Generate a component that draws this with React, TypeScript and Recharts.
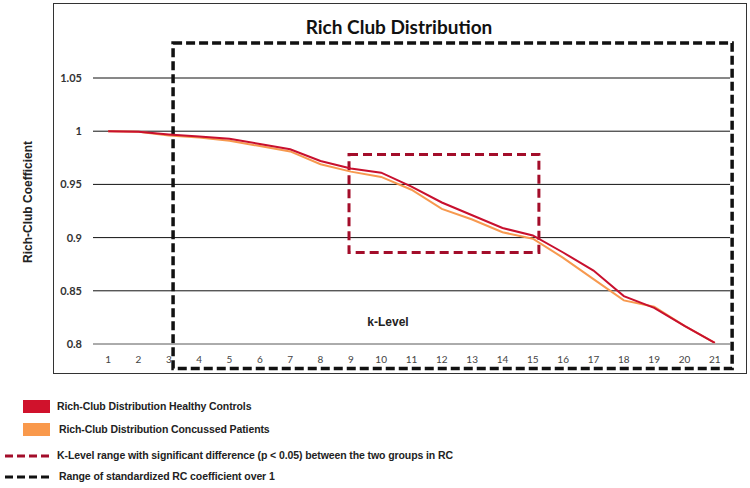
import {
  ComposedChart,
  Line,
  XAxis,
  YAxis,
  CartesianGrid,
  ReferenceArea,
} from 'recharts'

// k-levels on the x axis
const kLevels = [1, 2, 3, 4, 5, 6, 7, 8, 9, 10, 11, 12, 13, 14, 15, 16, 17, 18, 19, 20, 21]

// rich-club coefficient per k-level
const healthyControls = [
  1.0, 0.9995, 0.997, 0.995, 0.993, 0.988, 0.983, 0.972, 0.965, 0.961, 0.948,
  0.933, 0.921, 0.909, 0.902, 0.886, 0.869, 0.845, 0.834, 0.817, 0.801,
]
const concussedPatients = [
  1.0, 0.9995, 0.996, 0.994, 0.991, 0.986, 0.981, 0.969, 0.962, 0.957, 0.945,
  0.927, 0.917, 0.905, 0.899, 0.881, 0.861, 0.841, 0.835, 0.817, 0.801,
]

const yTicks = [0.8, 0.85, 0.9, 0.95, 1, 1.05]

// annotation boxes, in data units
const significantRange = { k1: 8.94, k2: 15.2, y1: 0.886, y2: 0.978 }
const overOneRange = { k1: 3.14, k2: 21.57, y1: 0.777, y2: 1.083 }

const legendItems = [
  { label: 'Rich-Club Distribution Healthy Controls', kind: 'box', color: '#d0122c' },
  { label: 'Rich-Club Distribution Concussed Patients', kind: 'box', color: '#f9994c' },
  { label: 'K-Level range with significant difference (p < 0.05) between the two groups in RC', kind: 'dash', color: '#a30d2a' },
  { label: 'Range of standardized RC coefficient over 1', kind: 'dash', color: '#111111' },
]

const data = kLevels.map((k, i) => ({
  k,
  healthy: healthyControls[i],
  concussed: concussedPatients[i],
}))

const boldArial = { fontFamily: '"Liberation Sans", Arial, sans-serif', fontWeight: 700 }

export default function App() {
  return (
    <div style={{ position: 'absolute', left: 0, top: 0, width: 750, height: 488, background: '#fff', overflow: 'hidden' }}>
      {/* outer frame */}
      <div style={{ position: 'absolute', left: 53, top: 3, width: 692, height: 369, border: '1.5px solid #333' }} />

      <div style={{ position: 'absolute', left: 0, top: 0 }}>
        <ComposedChart
          width={750}
          height={400}
          data={data}
          margin={{ top: 78, right: 20, bottom: 26, left: 33 }}
        >
          <CartesianGrid vertical={false} stroke="#111" strokeWidth={1} />
          <XAxis
            type="number"
            dataKey="k"
            domain={[0.5, 21.5]}
            ticks={kLevels}
            interval={0}
            axisLine={{ stroke: '#d0d0d0' }}
            tickLine={false}
            tickMargin={6}
            height={30}
            tick={{ fill: '#444', fontSize: 10, fontFamily: 'Lato, sans-serif' }}
          />
          <YAxis
            domain={[0.8, 1.05]}
            ticks={yTicks}
            width={60}
            axisLine={false}
            tickLine={false}
            tickMargin={5}
            tick={{ fill: '#333', fontSize: 11, fontFamily: 'Lato, sans-serif', fontWeight: 700 }}
          />

          <Line
            type="linear"
            dataKey="concussed"
            stroke="#f7994f"
            strokeWidth={2}
            dot={false}
            isAnimationActive={false}
          />
          <Line
            type="linear"
            dataKey="healthy"
            stroke="#c8102e"
            strokeWidth={2}
            dot={false}
            isAnimationActive={false}
          />

          {/* significant-difference box */}
          <ReferenceArea
            x1={significantRange.k1}
            x2={significantRange.k2}
            y1={significantRange.y1}
            y2={significantRange.y2}
            fill="none"
            fillOpacity={0}
            stroke="#a30d2a"
            strokeWidth={3}
            strokeDasharray="9 5"
            ifOverflow="visible"
          />
          {/* RC over 1 box */}
          <ReferenceArea
            x1={overOneRange.k1}
            x2={overOneRange.k2}
            y1={overOneRange.y1}
            y2={overOneRange.y2}
            fill="none"
            fillOpacity={0}
            stroke="#111"
            strokeWidth={3.5}
            strokeDasharray="9 4"
            ifOverflow="visible"
          />
        </ComposedChart>
      </div>

      {/* title */}
      <div style={{ position: 'absolute', left: 249, width: 300, top: 15, textAlign: 'center', fontFamily: 'Lato, sans-serif', fontWeight: 700, fontSize: 19, color: '#111' }}>
        Rich Club Distribution
      </div>

      {/* y axis label */}
      <div style={{ position: 'absolute', left: 28, top: 202, transform: 'translate(-50%, -50%) rotate(-90deg)', whiteSpace: 'nowrap', fontSize: 12, color: '#222', ...boldArial }}>
        Rich-Club Coefficient
      </div>

      {/* x axis label */}
      <div style={{ position: 'absolute', left: 388, top: 322, transform: 'translate(-50%, -50%)', whiteSpace: 'nowrap', fontSize: 12, color: '#222', ...boldArial }}>
        k-Level
      </div>

      {/* legend */}
      {legendItems.map((item, i) => {
        const cy = [407, 430, 456, 477][i]
        return (
          <div key={item.label} style={{ position: 'absolute', left: 0, top: cy - 8, height: 16, width: 750 }}>
            {item.kind === 'box' ? (
              <div style={{ position: 'absolute', left: 23, top: 1, width: 27, height: 13, background: item.color }} />
            ) : (
              <svg style={{ position: 'absolute', left: 5, top: 0 }} width={46} height={16}>
                <line x1={0} y1={8} x2={46} y2={8} stroke={item.color} strokeWidth={3} strokeDasharray="8 4" />
              </svg>
            )}
            <div style={{ position: 'absolute', left: i === 0 || i === 2 ? 57 : 59, top: 1, whiteSpace: 'nowrap', fontSize: 10.5, letterSpacing: -0.1, color: '#222', ...boldArial }}>
              {item.label}
            </div>
          </div>
        )
      })}
    </div>
  )
}
